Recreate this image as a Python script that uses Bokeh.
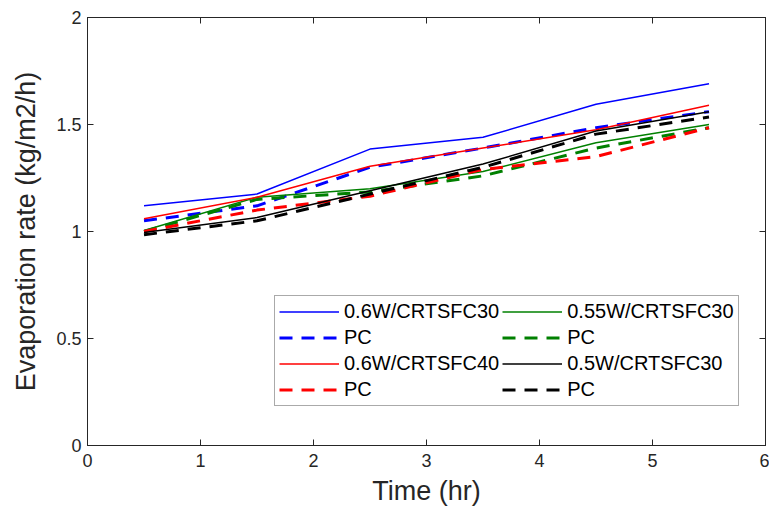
from bokeh.plotting import figure
from bokeh.models import Range1d, LinearAxis, Legend, LegendItem, FixedTicker
from bokeh.embed import file_html
from bokeh.resources import INLINE

time_hr = [0.5, 1.5, 2.5, 3.5, 4.5, 5.5]
blue_solid = [1.12, 1.175, 1.385, 1.44, 1.595, 1.69]
blue_dash = [1.05, 1.12, 1.30, 1.39, 1.485, 1.56]
green_solid = [1.005, 1.16, 1.20, 1.28, 1.415, 1.50]
green_dash = [1.0, 1.15, 1.185, 1.26, 1.39, 1.485]
red_solid = [1.06, 1.16, 1.305, 1.39, 1.475, 1.59]
red_dash = [1.0, 1.10, 1.165, 1.29, 1.35, 1.485]
black_solid = [0.995, 1.065, 1.19, 1.315, 1.47, 1.56]
black_dash = [0.985, 1.05, 1.175, 1.30, 1.455, 1.535]

labels = ["0.6W/CRTSFC30", "PC", "0.55W/CRTSFC30", "PC",
          "0.6W/CRTSFC40", "PC", "0.5W/CRTSFC30", "PC"]
x_ticks = [0, 1, 2, 3, 4, 5, 6]
y_ticks = [0, 0.5, 1, 1.5, 2]

FONT = "Liberation Sans"
AX = "#262626"

p = figure(width=769, height=514, output_backend="svg", toolbar_location=None,
           x_range=Range1d(0, 6), y_range=Range1d(0, 2),
           min_border_left=87, min_border_right=4, min_border_top=17, min_border_bottom=69)
p.xgrid.visible = False
p.ygrid.visible = False
p.outline_line_color = AX
p.outline_line_width = 1
p.background_fill_color = "white"
p.border_fill_color = "white"

for ax, ticks in ((p.xaxis[0], x_ticks), (p.yaxis[0], y_ticks)):
    ax.ticker = FixedTicker(ticks=ticks)
    ax.major_tick_in = 6
    ax.major_tick_out = 0
    ax.minor_tick_in = 0
    ax.minor_tick_out = 0
    ax.axis_line_color = AX
    ax.major_tick_line_color = AX
    ax.major_label_text_font = FONT
    ax.major_label_text_font_size = "18px"
    ax.major_label_text_color = AX
    ax.axis_label_text_font = FONT
    ax.axis_label_text_font_size = "27px"
    ax.axis_label_text_font_style = "normal"
    ax.axis_label_text_color = AX

p.xaxis.axis_label = "Time (hr)"
p.yaxis.axis_label = "Evaporation rate (kg/m2/h)"
p.xaxis.axis_label_standoff = 6
p.yaxis.axis_label_standoff = 12
p.yaxis.major_label_standoff = 6
p.xaxis.major_label_standoff = 8

top = LinearAxis(ticker=FixedTicker(ticks=x_ticks), major_tick_in=6, major_tick_out=0,
                 minor_tick_in=0, minor_tick_out=0,
                 major_label_overrides={t: "" for t in x_ticks},
                 axis_line_color=AX, major_tick_line_color=AX)
right = LinearAxis(ticker=FixedTicker(ticks=y_ticks), major_tick_in=6, major_tick_out=0,
                   minor_tick_in=0, minor_tick_out=0,
                   major_label_overrides={t: "" for t in y_ticks},
                   axis_line_color=AX, major_tick_line_color=AX)
p.add_layout(top, "above")
p.add_layout(right, "right")

series = [
    (blue_solid, "#0000FF", "solid", 1.5),
    (blue_dash, "#0000FF", "13 9", 3),
    (green_solid, "#008000", "solid", 1.5),
    (green_dash, "#008000", "13 9", 3),
    (red_solid, "#FF0000", "solid", 1.5),
    (red_dash, "#FF0000", "13 9", 3),
    (black_solid, "#000000", "solid", 1.5),
    (black_dash, "#000000", "13 9", 3),
]
renderers = []
for ys, c, dash, w in series:
    r = p.line(time_hr, ys, line_color=c, line_dash=dash, line_width=w)
    renderers.append(r)

# legend fills column by column: col1 blue/red, col2 green/black
order = [0, 1, 4, 5, 2, 3, 6, 7]
items = [LegendItem(label=labels[i], renderers=[renderers[i]]) for i in order]
legend = Legend(items=items, ncols=2, location=(187, 39),
                label_text_font=FONT, label_text_font_size="20px",
                label_text_color="#000000",
                glyph_width=60, glyph_height=19, label_standoff=5,
                spacing=3, padding=4, margin=0,
                border_line_color="#555555", border_line_width=1,
                background_fill_alpha=1.0)
p.add_layout(legend, "center")

open("out.html", "w").write(file_html(p, INLINE))
